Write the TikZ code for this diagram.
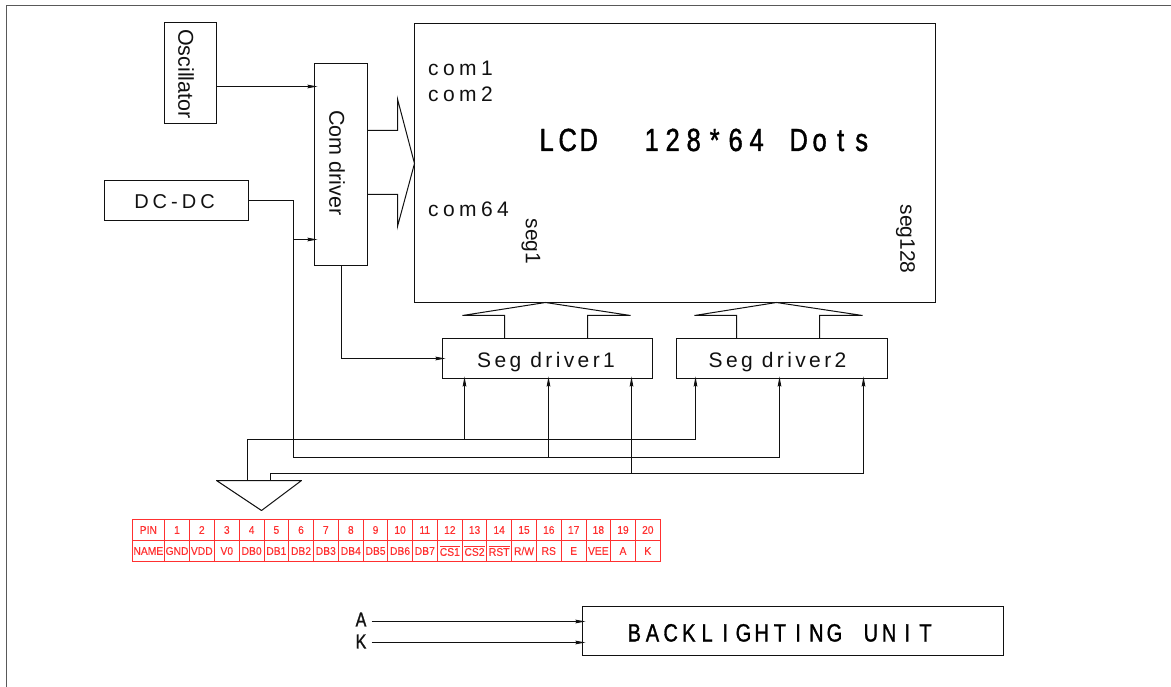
\documentclass[tikz,border=0pt]{standalone}
\usepackage{fontspec}
\usetikzlibrary{arrows.meta,calc}
\setmainfont{Liberation Sans}
\newfontfamily\spB[LetterSpace=16]{Liberation Sans}
\newfontfamily\spC[LetterSpace=20]{Liberation Sans}
\newfontfamily\spD[LetterSpace=21]{Liberation Sans}
\newfontfamily\narrowf[FakeStretch=0.8,FakeBold=1.2]{Liberation Sans}
\newfontfamily\tabf[FakeStretch=0.92,FakeBold=0.3]{Liberation Sans}
\makeatletter
\newcommand{\fixp}[2]{\def\fx@w{#1}\@tfor\fx@c:=#2\do{\makebox[\fx@w][c]{\fx@c}}}
\makeatother
\definecolor{ink}{HTML}{111111}
\definecolor{tabred}{HTML}{FF3030}
\tikzset{
  wire/.style={draw=ink,line width=1pt,line join=miter},
  arr/.style={wire,-{Stealth[length=10pt,width=3.6pt,inset=1pt]}},
  blk/.style={draw=ink,line width=1pt,inner sep=0pt,outer sep=0pt,anchor=north west},
  lab/.style={text=ink,inner sep=0pt},
  cell/.style={draw=tabred,line width=1pt,inner sep=0pt,outer sep=0pt,text=tabred,font=\fontsize{11.2}{12}\tabf}
}
\newcommand{\mybox}[6]{\node[blk,minimum width=#4pt-#2pt,minimum height=#5pt-#3pt] (#1) at (#2,#3) {#6};}
\begin{document}
\begin{tikzpicture}[x=1pt,y=-1pt]
\useasboundingbox (0,0) rectangle (1171,687);
% outer frame
\coordinate (fa) at (6.5,687);
\coordinate (fb) at (6.5,5.5);
\coordinate (fc) at (1171,5.5);
\draw[draw=black!65,line width=1pt] (fa) -- (fb) -- (fc);
% blocks
\mybox{osc}{164.5}{22.5}{216.5}{123.5}{}
\mybox{com}{314.5}{63.5}{367.5}{265.5}{}
\mybox{dc}{104.5}{180.5}{248.5}{220.5}{}
\mybox{lcd}{414.5}{23.5}{935.5}{302.5}{}
\mybox{sega}{442.5}{338.5}{652.5}{378.5}{}
\mybox{segb}{676.5}{338.5}{887.5}{378.5}{}
\mybox{back}{582.5}{606.5}{1003.5}{655.5}{}
% block labels
\node[lab,rotate=-90,font=\fontsize{21.5}{24}\selectfont] (tosc) at (186,74) {Oscillator};
\node[lab,rotate=-90,font=\fontsize{21.5}{24}\selectfont] (tcom) at (337,163) {Com driver};
\node[lab,font=\fontsize{20}{24}\spC] (tdc) at (174.5,202) {DC-DC};
\node[lab,anchor=base west,font=\fontsize{21}{24}\spD] (tc1) at (428,76) {com1};
\node[lab,anchor=base west,font=\fontsize{21}{24}\spD] (tc2) at (428,102) {com2};
\node[lab,anchor=base west,font=\fontsize{21}{24}\spD] (tc64) at (428,217) {com64};
\node[lab,anchor=base west,font=\fontsize{32}{36}\narrowf,text=black] (tlcd) at (536,151) {\fixp{21pt}{LCD{~}{~}128*64{~}Dots}};
\node[lab,rotate=-90,font=\fontsize{21}{24}\selectfont] (ts1) at (531,241.5) {seg1};
\node[lab,rotate=-90,font=\fontsize{21}{24}\selectfont] (ts128) at (905.5,239) {seg128};
\node[lab,font=\fontsize{21}{24}\spB] (tsa) at (546,362) {Seg driver1};
\node[lab,font=\fontsize{21}{24}\spB] (tsb) at (777.5,362) {Seg driver2};
\node[lab,anchor=base west,font=\fontsize{25}{28}\narrowf,text=black] (tback) at (625,641.5) {\fixp{18.2pt}{BACKLIGHTING{~}UNIT}};
\node[lab,font=\fontsize{20}{22}\narrowf] (tA) at (361,619.5) {A};
\node[lab,font=\fontsize{20}{22}\narrowf] (tK) at (361,641.5) {K};
% connector triangle
\coordinate (tl) at (216.5,480.5);
\coordinate (tr) at (301.5,480.5);
\coordinate (tt) at (261.5,510.5);
\draw[wire,line join=round] (tl) -- (tr) -- (tt) -- cycle;
% oscillator and DC-DC to Com driver
\draw[arr] (osc.east |- 0,86.5) -- ($(com.west |- 0,86.5)+(3,0)$);
\coordinate (jd) at (293.5,200.5);
\draw[wire] (dc.east |- jd) -- (jd);
\draw[arr] (jd |- 0,239.5) -- ($(com.west |- 0,239.5)+(3,0)$);
% buses to Seg drivers
\coordinate (b1) at (247.5,439.5);
\coordinate (b2) at (293.5,457.5);
\coordinate (b3) at (270.5,473.5);
\draw[arr] (b1 |- tl) -- (b1) -- (695.5,439.5) -- (695.5,376.5);
\draw[arr] (jd) -- (b2) -- (779.5,457.5) -- (779.5,376.5);
\draw[arr] (b3 |- tl) -- (b3) -- (863.5,473.5) -- (863.5,376.5);
\draw[arr] (464.5,439.5) -- (464.5,376.5);
\draw[arr] (548.5,457.5) -- (548.5,376.5);
\draw[arr] (631.5,473.5) -- (631.5,376.5);
% Com driver to Seg driver 1
\coordinate (cs) at (341.5,358.5);
\draw[arr] (com.south -| cs) -- (cs) -- ($(sega.west |- cs)+(3,0)$);
% wide arrows
\draw[wire] (com.east |- 0,130.5) -- (397.5,130.5) -- (397.5,99) -- (lcd.west |- 0,163.5) -- (397.5,226.5) -- (397.5,194.5) -- (com.east |- 0,194.5);
\draw[wire] (504.5,338.5) -- (504.5,315.5) -- (462.5,315.5) -- (545.5,302.5) -- (630.5,315.5) -- (587.5,315.5) -- (587.5,338.5);
\draw[wire] (736.5,338.5) -- (736.5,315.5) -- (694.5,315.5) -- (776.5,302.5) -- (862.5,315.5) -- (819.5,315.5) -- (819.5,338.5);
% backlight inputs
\draw[arr] (371.5,621.5) -- ($(back.west |- 0,621.5)+(3,0)$);
\draw[arr] (371.5,642.5) -- ($(back.west |- 0,642.5)+(3,0)$);
% pin table
\foreach \n/\xa/\xb/\toptxt/\bottxt in {
 0/132/164.7/PIN/NAME,
 1/164.7/189.3/1/GND,
 2/189.3/214.3/2/VDD,
 3/214.3/239.3/3/V0,
 4/239.3/264/4/DB0,
 5/264/288.7/5/DB1,
 6/288.7/313.3/6/DB2,
 7/313.3/338.3/7/DB3,
 8/338.3/363.3/8/DB4,
 9/363.3/387.8/9/DB5,
 10/387.8/412.3/10/DB6,
 11/412.3/437.3/11/DB7,
 12/437.3/462.3/12/$\overline{\mbox{CS1}}$,
 13/462.3/486.7/13/$\overline{\mbox{CS2}}$,
 14/486.7/511.7/14/$\overline{\mbox{RST}}$,
 15/511.7/536.3/15/{R/W},
 16/536.3/561.3/16/RS,
 17/561.3/586/17/E,
 18/586/610.7/18/VEE,
 19/610.7/635.3/19/A,
 20/635.3/660.3/20/K}{
  \pgfmathsetmacro{\cx}{(\xa+\xb)/2}
  \pgfmathsetmacro{\cellw}{\xb-\xa}
  \node[cell,minimum width=\cellw pt,minimum height=21pt] (p\n) at (\cx,530) {\raisebox{-1.5pt}{\toptxt}};
  \node[cell,minimum width=\cellw pt,minimum height=21pt] (q\n) at (\cx,551) {\raisebox{-1pt}{\bottxt}};
}
\end{tikzpicture}
\end{document}
